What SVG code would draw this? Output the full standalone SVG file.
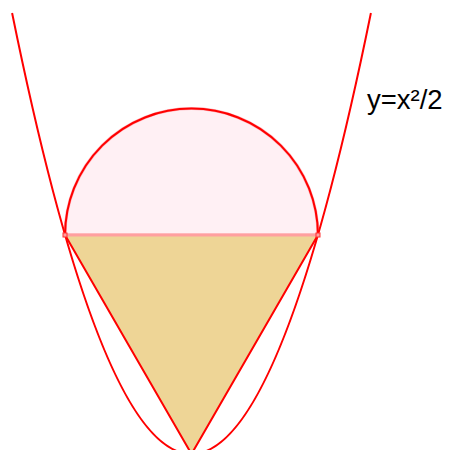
<svg xmlns="http://www.w3.org/2000/svg" width="449" height="450" viewBox="0 0 449 450">
<style>
.red{fill:none;stroke:#ff0000;stroke-width:2}
.lbl{font-family:"Liberation Sans",Arial,sans-serif;font-size:27.5px;fill:#000}
</style>
<rect width="449" height="450" fill="#fff"/>
<g id="semicircle">
<path d="M65.06,235 A126.44,126.44 0 0 1 317.94,235 Z" fill="#fff0f4" stroke="#ffb0b8" stroke-width="3"/>
<path class="red" d="M65.06,235 A126.44,126.44 0 0 1 317.94,235"/>
</g>
<g id="triangle">
<path d="M65.06,235 L317.94,235 L191.5,454 Z" fill="#eed596" stroke="#ff0000" stroke-width="2" stroke-linejoin="round"/>
</g>
<g id="connectors">
<path id="parabola" class="red" d="M12.1,13 Q191.5,895 370.9,13"/>
<line id="chord" x1="65.06" y1="235" x2="317.94" y2="235" stroke="#ff9f9f" stroke-width="3"/>
</g>
<g id="points">
<rect x="63" y="233" width="4" height="4" fill="#ff9f9f" stroke="#ff3030" stroke-width="1"/>
<rect x="316" y="233" width="4" height="4" fill="#ff9f9f" stroke="#ff3030" stroke-width="1"/>
</g>
<g id="label">
<text class="lbl" x="367" y="109">y=x²/2</text>
</g>
</svg>
